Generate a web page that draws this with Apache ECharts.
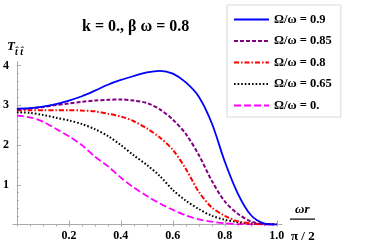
<!DOCTYPE html>
<html>
<head>
<meta charset="utf-8">
<script src="https://cdn.jsdelivr.net/npm/echarts@6/dist/echarts.min.js"></script>
<style>html,body{margin:0;padding:0;background:#fff}#c{width:374px;height:251px}</style>
</head>
<body>
<div id="c"></div>
<script>
const xValues = [0,0.05,0.1,0.15,0.2,0.25,0.3,0.35,0.4,0.45,0.5,0.55,0.6,0.65,0.7,0.75,0.8,0.85,0.9,0.95,1.0];
const seriesNames = ['Ω/ω = 0.9','Ω/ω = 0.85','Ω/ω = 0.8','Ω/ω = 0.65','Ω/ω = 0.'];
const omega090 = [2.92,2.93,2.97,3.03,3.12,3.23,3.37,3.52,3.64,3.74,3.83,3.87,3.80,3.58,3.22,2.55,1.58,0.78,0.24,0.03,0];
const omega085 = [2.90,2.92,2.96,3.01,3.05,3.09,3.12,3.14,3.15,3.12,3.06,2.90,2.64,2.28,1.75,1.10,0.58,0.27,0.08,0.01,0];
const omega080 = [2.88,2.88,2.88,2.88,2.88,2.87,2.85,2.79,2.72,2.60,2.42,2.19,1.88,1.40,0.82,0.43,0.22,0.08,0.03,0.01,0];
const omega065 = [2.83,2.81,2.76,2.69,2.62,2.53,2.40,2.23,2.00,1.74,1.50,1.22,0.87,0.60,0.39,0.22,0.12,0.06,0.02,0.01,0];
const omega000 = [2.74,2.70,2.59,2.41,2.22,2.00,1.71,1.47,1.18,0.93,0.72,0.53,0.37,0.23,0.13,0.07,0.03,0.01,0.005,0,0];
const xMajorTicks = [0.2,0.4,0.6,0.8,1.0];
const xMinorTicks = [0,0.05,0.1,0.15,0.2,0.25,0.3,0.35,0.4,0.45,0.5,0.55,0.6,0.65,0.7,0.75,0.8,0.85,0.9,0.95,1.0];
const yMajorTicks = [1,2,3,4];
const yMinorTicks = [0.2,0.4,0.6,0.8,1,1.2,1.4,1.6,1.8,2,2.2,2.4,2.6,2.8,3,3.2,3.4,3.6,3.8,4];

const allValues = [omega090, omega085, omega080, omega065, omega000];
const colors = ['#0000ff','#800080','#ff0000','#000000','#ff00ff'];
const dashes = ['solid',[4,2],[5,2,1.5,2],[1.6,2],[7,3]];
const widths = [1.8,2,2,2,1.8];
const serif = 'Liberation Serif';

const chart = echarts.init(document.getElementById('c'), null, {renderer:'canvas'});
const series = allValues.map((vals,i)=>({
  name: seriesNames[i],
  type: 'line',
  smooth: 0.3,
  symbol: 'none',
  data: xValues.map((x,j)=>[x, vals[j]]),
  lineStyle: {color: colors[i], width: widths[i], type: dashes[i]},
  itemStyle: {color: colors[i]},
  z: 10 - i
}));

const axisCommon = {type:'value', splitLine:{show:false}};
chart.setOption({
  animation: false,
  backgroundColor: '#fff',
  grid: {left: 13, top: 61.7, width: 269, height: 162.8, containLabel: false},
  xAxis: [
    Object.assign({}, axisCommon, {min:-0.015, max:1.02,
      axisLine:{show:true, lineStyle:{color:'#aaaaaa', width:1}},
      axisTick:{show:true, inside:true, length:4, customValues: xMajorTicks, lineStyle:{color:'#aaaaaa'}},
      axisLabel:{show:true, customValues: xMajorTicks, margin:5, color:'#000', fontFamily:serif, fontWeight:'bold', fontSize:12,
        formatter: v => v.toFixed(1)}}),
    Object.assign({}, axisCommon, {min:-0.015, max:1.02,
      axisLine:{show:false},
      axisTick:{show:true, inside:true, length:2, customValues: xMinorTicks, lineStyle:{color:'#aaaaaa'}},
      axisLabel:{show:false}})
  ],
  yAxis: [
    Object.assign({}, axisCommon, {min:0, max:4.1,
      axisLine:{show:true, lineStyle:{color:'#aaaaaa', width:1}},
      axisTick:{show:true, inside:true, length:4, customValues: yMajorTicks, lineStyle:{color:'#aaaaaa'}},
      axisLabel:{show:true, customValues: yMajorTicks, margin:4, color:'#000', fontFamily:serif, fontWeight:'bold', fontSize:12,
        formatter: v => String(v)}}),
    Object.assign({}, axisCommon, {min:0, max:4.1, position:'left',
      axisLine:{show:false},
      axisTick:{show:true, inside:true, length:2, customValues: yMinorTicks, lineStyle:{color:'#aaaaaa'}},
      axisLabel:{show:false}})
  ],
  legend: {
    orient:'vertical', left:227, top:5, padding:[8,9,5,6], itemGap:8.5, itemWidth:35, itemHeight:14,
    borderColor:'#d8d8d8', borderWidth:1, backgroundColor:'#fff',
    itemStyle:{opacity:0},
    textStyle:{fontFamily:serif, fontWeight:'bold', fontSize:12.5, color:'#000'},
    data: seriesNames
  },
  graphic: [
    {type:'text', left:82, top:19, style:{text:'k = 0., β ω = 0.8', font:'bold 16px "Liberation Serif"', fill:'#000'}},
    {type:'text', left:7, top:40, style:{text:'T', font:'italic bold 13px "Liberation Serif"', fill:'#000'}},
    {type:'text', left:15, top:47, style:{text:'t̂ t̂', font:'italic bold 10px "Liberation Serif"', fill:'#000'}},
    {type:'text', left:295, top:203, style:{text:'ωr', font:'italic bold 13px "Liberation Serif"', fill:'#000'}},
    {type:'rect', shape:{x:290, y:218.5, width:25, height:1.2}, style:{fill:'#000'}},
    {type:'text', left:291, top:230, style:{text:'π / 2', font:'bold 13px "Liberation Serif"', fill:'#000'}}
  ],
  series: series
});
</script>
</body>
</html>
